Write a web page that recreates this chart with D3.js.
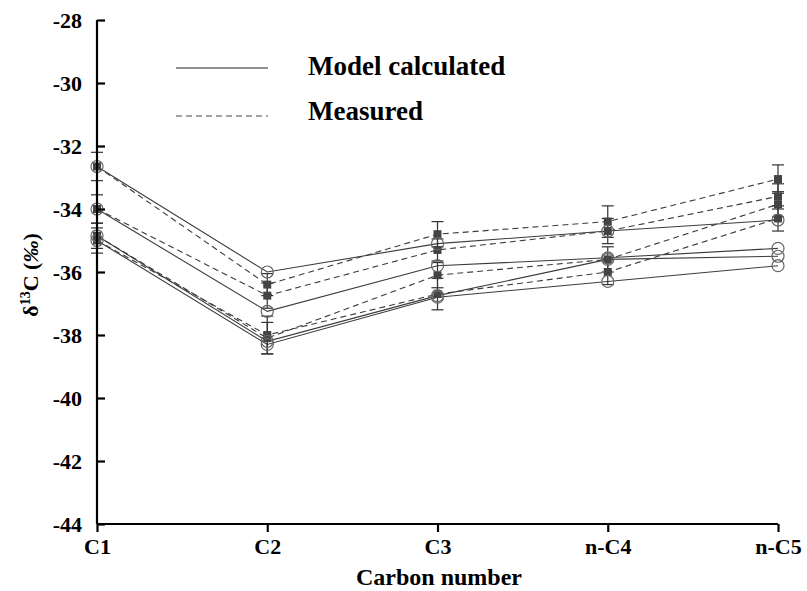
<!DOCTYPE html>
<html>
<head>
<meta charset="utf-8">
<script src="https://cdn.jsdelivr.net/npm/d3@7"></script>
<style>
  body { margin: 0; background: #fff; }
  text { font-family: "Liberation Serif", "Times New Roman", Times, serif; font-weight: bold; }
</style>
</head>
<body>
<div id="chart"></div>
<script>
// categories and ticks
var carbons = ["C1", "C2", "C3", "n-C4", "n-C5"];
var yTicks = [-28, -30, -32, -34, -36, -38, -40, -42, -44];

// model calculated (solid, open circles)
var modelA = [-32.65, -36.0, -35.1, -34.7, -34.35];
var modelB = [-34.0, -37.25, -35.8, -35.55, -35.25];
var modelC = [-34.85, -38.2, -36.75, -35.6, -35.5];
var modelD = [-35.0, -38.3, -36.8, -36.3, -35.8];

// measured (dashed, filled squares) with error
var measA = [-32.65, -36.4, -34.8, -34.4, -33.05];
var measB = [-34.0, -36.75, -35.3, -34.7, -33.6];
var measC = [-34.85, -38.1, -36.1, -35.6, -33.85];
var measD = [-35.0, -38.0, -36.7, -36.0, -34.3];
var errA = [0.45, 0.35, 0.4, 0.5, 0.45];
var errB = [0.45, 0.4, 0.35, 0.4, 0.4];
var errC = [0.4, 0.5, 0.4, 0.4, 0.4];
var errD = [0.4, 0.6, 0.5, 0.4, 0.4];

var models = [modelA, modelB, modelC, modelD];
var measured = [[measA, errA], [measB, errB], [measC, errC], [measD, errD]];

var width = 807, height = 591;
var serif = "'Liberation Serif', 'Times New Roman', Times, serif";
var svg = d3.select("#chart").append("svg")
    .attr("width", width).attr("height", height);

var x = d3.scalePoint().domain(carbons).range([97, 778]);
var y = d3.scaleLinear().domain([-44, -28]).range([524, 20]);

var lineCol = "#3c3c3c";
var line = d3.line().x((d, i) => x(carbons[i])).y(d => y(d));

// lines
models.forEach(function (m) {
  svg.append("path").attr("d", line(m)).attr("fill", "none")
    .attr("stroke", lineCol).attr("stroke-width", 1.1);
});
measured.forEach(function (m) {
  svg.append("path").attr("d", line(m[0])).attr("fill", "none")
    .attr("stroke", lineCol).attr("stroke-width", 1.1)
    .attr("stroke-dasharray", "6,4");
});

// error bars
measured.forEach(function (m) {
  var g = svg.append("g").attr("stroke", "#333").attr("stroke-width", 1.2);
  m[0].forEach(function (v, i) {
    var cx = x(carbons[i]);
    g.append("line").attr("x1", cx).attr("x2", cx)
      .attr("y1", y(v - m[1][i])).attr("y2", y(v + m[1][i]));
    [v - m[1][i], v + m[1][i]].forEach(function (e) {
      g.append("line").attr("x1", cx - 6).attr("x2", cx + 6)
        .attr("y1", y(e)).attr("y2", y(e));
    });
  });
});

// markers
measured.forEach(function (m) {
  svg.append("g").selectAll("rect").data(m[0]).join("rect")
    .attr("x", (d, i) => x(carbons[i]) - 4)
    .attr("y", d => y(d) - 4)
    .attr("width", 8).attr("height", 8)
    .attr("fill", "#444");
});
models.forEach(function (m) {
  svg.append("g").selectAll("circle").data(m).join("circle")
    .attr("cx", (d, i) => x(carbons[i]))
    .attr("cy", d => y(d))
    .attr("r", 6)
    .attr("fill", "none")
    .attr("stroke", "#666").attr("stroke-width", 1.2);
});

// axes
var yAxis = d3.axisLeft(y).tickValues(yTicks).tickFormat(d => String(d))
  .tickSizeInner(-8).tickSizeOuter(0).tickPadding(15);
var gy = svg.append("g").attr("transform", "translate(97,0)").call(yAxis);
var xAxis = d3.axisBottom(x).tickSizeInner(8).tickSizeOuter(0).tickPadding(6);
var gx = svg.append("g").attr("transform", "translate(0,524)").call(xAxis);

[gx, gy].forEach(function (g) {
  g.attr("font-family", serif).attr("font-size", 22).attr("font-weight", "bold");
  g.select(".domain").attr("stroke", "#000").attr("stroke-width", 2.2);
  g.selectAll(".tick line").attr("stroke", "#000").attr("stroke-width", 2.2);
  g.selectAll("text").attr("fill", "#000");
});
gy.select(".domain").attr("d", "M0," + y(-44) + "V" + y(-28));
gx.select(".domain").attr("d", "M" + x("C1") + ",0H" + x("n-C5"));

// axis titles
svg.append("text").attr("x", 439).attr("y", 585)
  .attr("text-anchor", "middle").style("font-size", "24px").text("Carbon number");

var yt = svg.append("text").attr("transform", "translate(38,275) rotate(-90)")
  .attr("text-anchor", "middle").style("font-size", "22px");
yt.append("tspan").text("δ");
yt.append("tspan").attr("dy", -8).style("font-size", "14px").text("13");
yt.append("tspan").attr("dy", 8).text("C (");
yt.append("tspan").style("font-style", "italic").text("‰");
yt.append("tspan").text(")");

// legend
svg.append("line").attr("x1", 176).attr("x2", 268).attr("y1", 68).attr("y2", 68)
  .attr("stroke", "#222").attr("stroke-width", 1.2);
svg.append("line").attr("x1", 176).attr("x2", 268).attr("y1", 116).attr("y2", 116)
  .attr("stroke", "#444").attr("stroke-width", 1).attr("stroke-dasharray", "6,4");
svg.append("text").attr("x", 308).attr("y", 75).style("font-size", "27px").text("Model calculated");
svg.append("text").attr("x", 308).attr("y", 120).style("font-size", "27px").text("Measured");
</script>
</body>
</html>
